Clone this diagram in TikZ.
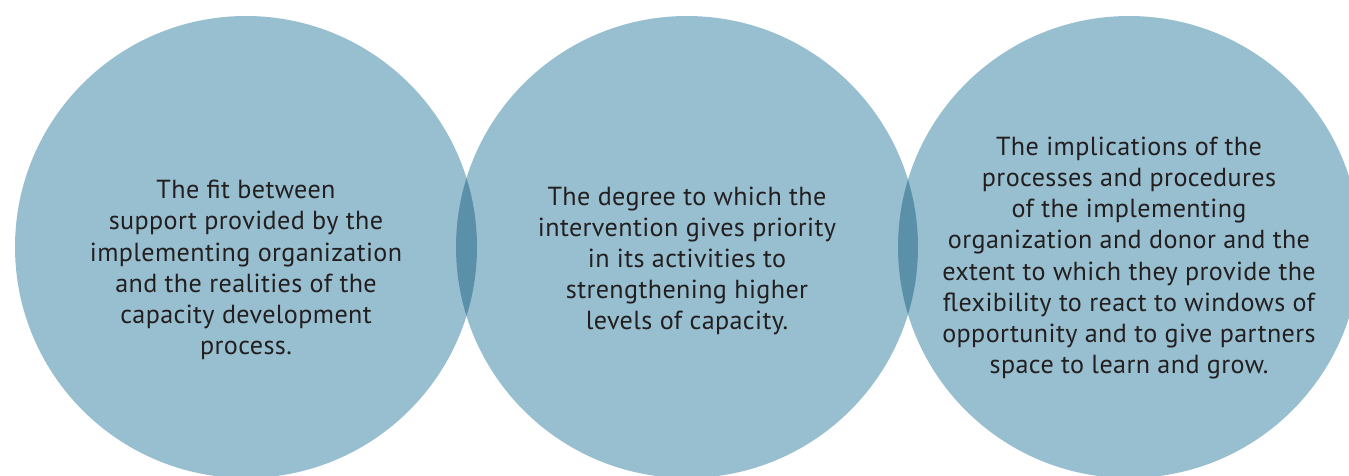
\documentclass[tikz,border=0pt]{standalone}
\usepackage{fontspec}
\setmainfont[LetterSpace=1.5]{PT Sans}

\definecolor{ringfill}{RGB}{152,191,208}
\definecolor{ringlap}{RGB}{90,145,169}
\definecolor{ringtext}{RGB}{35,31,32}

\tikzset{every picture/.style={line width=0.75pt}}
\tikzset{
  ring/.style={circle, fill=ringfill, draw=none, minimum size=462*0.75pt, inner sep=0pt},
  ringtxt/.style={text=ringtext, align=center, font=\fontsize{19.6}{23.4}\selectfont}
}

\begin{document}
\begin{tikzpicture}[x=0.75pt,y=0.75pt,yscale=-1,xscale=1]
    \useasboundingbox (0,0) rectangle (1349,475);
    \clip (0,0) rectangle (1349,475);

    %Circles
    \node [ring] (left) at (246,247) {};
    \node [ring] (mid) at (687,247) {};
    \node [ring] (right) at (1129,247) {};

    %Overlaps
    \begin{scope}
      \clip (246,247) circle (231);
      \fill [ringlap] (687,247) circle (231);
    \end{scope}
    \begin{scope}
      \clip (687,247) circle (231);
      \fill [ringlap] (1129,247) circle (231);
    \end{scope}

    %Texts
    \node [ringtxt] (lefttxt) at (246,270) {The fit between\\support provided by the\\implementing organization\\and the realities of the\\capacity development\\process.};
    \node [ringtxt] (midtxt) at (687,261) {The degree to which the\\intervention gives priority\\in its activities to\\strengthening higher\\levels of capacity.};
    \node [ringtxt] (righttxt) at (1129,258) {The implications of the\\processes and procedures\\of the implementing\\organization and donor and the\\extent to which they provide the\\flexibility to react to windows of\\opportunity and to give partners\\space to learn and grow.};

\end{tikzpicture}
\end{document}
